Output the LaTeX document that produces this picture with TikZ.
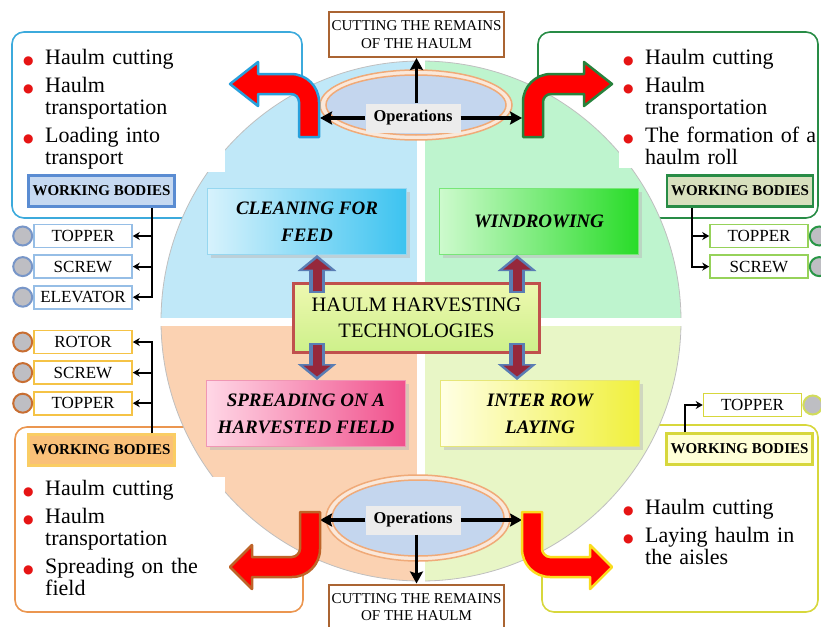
\documentclass[tikz,border=0pt]{standalone}
\usepackage{fontspec}
\setmainfont{Liberation Serif}
\newfontfamily\symfont{DejaVu Sans}
\usetikzlibrary{arrows.meta,positioning,shadows}

\definecolor{tlFrame}{RGB}{60,170,220}
\definecolor{trFrame}{RGB}{40,140,70}
\definecolor{blFrame}{RGB}{235,150,80}
\definecolor{brFrame}{RGB}{215,215,60}
\definecolor{qTL}{RGB}{192,232,248}
\definecolor{qTR}{RGB}{190,244,206}
\definecolor{qBL}{RGB}{251,210,178}
\definecolor{qBR}{RGB}{232,246,198}
\definecolor{opsFill}{RGB}{196,214,238}
\definecolor{ringLine}{RGB}{240,170,120}
\definecolor{ringIn}{RGB}{250,232,218}
\definecolor{opsLabel}{RGB}{236,236,236}
\definecolor{cutBrown}{RGB}{170,100,50}
\definecolor{hubRed}{RGB}{192,80,77}
\definecolor{hubA}{RGB}{238,248,176}
\definecolor{hubB}{RGB}{205,240,138}
\definecolor{arrBlue}{RGB}{90,125,180}
\definecolor{arrRed}{RGB}{150,40,60}
\definecolor{bulRed}{RGB}{230,20,20}
\definecolor{knobGray}{RGB}{190,190,195}
\definecolor{tlItem}{RGB}{150,190,230}
\definecolor{tlKnob}{RGB}{120,150,200}
\definecolor{trItem}{RGB}{150,210,90}
\definecolor{trKnob}{RGB}{40,150,70}
\definecolor{blItem}{RGB}{245,195,70}
\definecolor{blKnob}{RGB}{200,110,50}
\definecolor{brItem}{RGB}{215,215,60}
\definecolor{brKnob}{RGB}{210,220,90}
\definecolor{tlWBfill}{RGB}{198,217,241}
\definecolor{tlWBline}{RGB}{90,140,210}
\definecolor{trWBfill}{RGB}{216,224,190}
\definecolor{blWBfill}{RGB}{250,192,120}
\definecolor{blWBline}{RGB}{250,205,100}
\definecolor{brWBfill}{RGB}{255,255,215}
\definecolor{tlArr}{RGB}{40,160,220}
\definecolor{trArr}{RGB}{40,130,60}
\definecolor{blArr}{RGB}{190,100,40}
\definecolor{brArr}{RGB}{250,220,30}
\definecolor{cleanA}{RGB}{215,242,252}
\definecolor{cleanB}{RGB}{60,195,240}
\definecolor{cleanL}{RGB}{150,215,240}
\definecolor{windA}{RGB}{205,250,205}
\definecolor{windB}{RGB}{40,220,40}
\definecolor{windL}{RGB}{120,230,120}
\definecolor{spreadA}{RGB}{255,215,230}
\definecolor{spreadB}{RGB}{240,80,140}
\definecolor{spreadL}{RGB}{240,150,180}
\definecolor{interA}{RGB}{255,255,228}
\definecolor{interB}{RGB}{240,240,60}
\definecolor{interL}{RGB}{230,230,120}

\newcommand{\rbul}{\makebox[23pt][l]{\hspace*{1pt}\textcolor{bulRed}{\symfont\fontsize{12}{12}\selectfont ●}}}
\newcommand{\rind}{\hspace*{23pt}}

\tikzset{
    listframe/.style={line width=1.6pt, rounded corners=12pt, fill=white},
    lst/.style={fill=white, anchor=north west, align=left, inner sep=3pt, font=\fontsize{22}{22}\selectfont},
    wbox/.style={draw, line width=2.5pt, minimum width=146pt, minimum height=31pt, inner sep=1pt, font=\fontsize{15}{16}\selectfont\bfseries},
    bodybox/.style={draw, line width=1.6pt, fill=white, minimum width=98pt, minimum height=23pt, inner sep=1pt, font=\fontsize{17}{18}\selectfont},
    knob/.style={circle, draw, line width=2pt, fill=knobGray, minimum size=19pt, inner sep=0pt},
    bodyarrow/.style={line width=2pt, -{Stealth[length=7pt,width=8pt]}},
    opsarrow/.style={line width=3.2pt, -{Stealth[length=12pt,width=13pt,inset=2pt]}},
    ring/.style={draw=ringLine, line width=1.5pt},
    cutbox/.style={draw=cutBrown, line width=2pt, fill=white, align=center, minimum width=175pt, minimum height=45pt, inner sep=1pt, font=\fontsize{15}{17.5}\selectfont},
    opslabel/.style={fill=opsLabel, minimum width=95pt, minimum height=29pt, inner sep=1pt, font=\fontsize{16.5}{18}\selectfont\bfseries},
    techbox/.style={draw, line width=1pt, minimum width=199pt, minimum height=66pt, align=center, inner sep=1pt,
        font=\fontsize{19}{27}\selectfont\bfseries\itshape, drop shadow={shadow xshift=3pt, shadow yshift=-3pt, fill=gray!55}},
    hubbox/.style={draw=hubRed, line width=3pt, top color=hubA, bottom color=hubB, minimum width=246pt, minimum height=69pt,
        align=center, inner sep=1pt, font=\fontsize{20.5}{26}\selectfont},
    blkout/.style={draw=arrBlue, line width=16pt, -{Triangle[length=16pt,width=38pt]}},
    blkin/.style={draw=arrRed, line width=9pt, -{Triangle[length=11pt,width=27pt]}, shorten >=3.5pt, shorten <=2pt},
    bentarrow/.style={fill=red, line width=2.5pt, line join=round}
}

\begin{document}
\begin{tikzpicture}[x=1pt,y=-1pt]
\useasboundingbox (0,0) rectangle (821,626);

% frames of the four branches
\draw[listframe,draw=tlFrame] (12,32) rectangle (302,218);
\draw[listframe,draw=trFrame] (538,32) rectangle (818,218);
\draw[listframe,draw=blFrame] (15,427) rectangle (303,612);
\draw[listframe,draw=brFrame] (542,425) rectangle (818,612);

% the disc
\begin{scope}
\clip (421,321) circle[radius=260pt];
\fill[qTL] (161,61) rectangle (421,321);
\fill[qTR] (421,61) rectangle (681,321);
\fill[qBL] (161,321) rectangle (421,581);
\fill[qBR] (421,321) rectangle (681,581);
\end{scope}
\draw[gray!50,line width=0.8pt] (421,321) circle[radius=260pt];
\draw[white,line width=8pt] (421,58) -- (421,584);
\draw[white,line width=8pt] (158,322) -- (684,322);

% operations
\draw[ring,fill=ringIn] (416,105) ellipse[x radius=96pt,y radius=35pt];
\draw[ring,fill=opsFill] (416,105) ellipse[x radius=90pt,y radius=30pt];
\draw[ring,fill=ringIn] (418,518) ellipse[x radius=92pt,y radius=43pt];
\draw[ring,fill=opsFill] (418,518) ellipse[x radius=86pt,y radius=38pt];

\node[cutbox] (cutT) at (416.5,34.5) {CUTTING THE REMAINS\\OF THE HAULM};
\node[cutbox] (cutB) at (416.5,607) {CUTTING THE REMAINS\\OF THE HAULM};
\node[opslabel] (opsT) at (413,118) {Operations};
\node[opslabel] (opsB) at (413,520) {Operations};
\coordinate (opsTL) at (320,118);
\coordinate (opsTR) at (522,118);
\coordinate (opsBL) at (320,520);
\coordinate (opsBR) at (522,520);
\draw[opsarrow] (opsT.west) -- (opsTL);
\draw[opsarrow] (opsT.east) -- (opsTR);
\draw[opsarrow] (opsT.north -| cutT.south) -- (cutT.south);
\draw[opsarrow] (opsB.west) -- (opsBL);
\draw[opsarrow] (opsB.east) -- (opsBR);
\draw[opsarrow] (opsB.south -| cutB.north) -- (cutB.north);

% technologies
\node[techbox,draw=cleanL,left color=cleanA,right color=cleanB] (clean) at (307,221.5) {CLEANING FOR\\FEED};
\node[techbox,draw=windL,left color=windA,right color=windB] (wind) at (539,221.5) {WINDROWING};
\node[techbox,draw=spreadL,left color=spreadA,right color=spreadB] (spread) at (306,413.5) {SPREADING ON A\\HARVESTED FIELD};
\node[techbox,draw=interL,left color=interA,right color=interB] (inter) at (540,413.5) {INTER ROW\\LAYING};
\node[hubbox] (hub) at (416.5,318) {HAULM HARVESTING\\TECHNOLOGIES};

\coordinate (hubTL) at (317,293);
\coordinate (hubTR) at (517,293);
\coordinate (hubBL) at (317,343);
\coordinate (hubBR) at (517,343);
\foreach \a/\b in {hubTL/clean.south, hubTR/wind.south, hubBL/spread.north, hubBR/inter.north} {
    \draw[blkout] (\a) -- (\a |- \b);
    \draw[blkin] (\a) -- (\a |- \b);
}

% lists of operations
\node[lst,text width=200pt] (tlList) at (19,46) {\rbul Haulm cutting\\[6pt]\rbul Haulm\\\rind transportation\\[6pt]\rbul Loading into\\\rind transport};
\node[lst,text width=190pt] (trList) at (619,46) {\rbul Haulm cutting\\[6pt]\rbul Haulm\\\rind transportation\\[6pt]\mbox{\rbul The formation of a}\\\rind haulm roll};
\node[lst,text width=200pt] (blList) at (19,477) {\rbul Haulm cutting\\[6pt]\rbul Haulm\\\rind transportation\\[6pt]\rbul Spreading on the\\\rind field};
\node[lst,text width=190pt] (brList) at (619,496) {\rbul Haulm cutting\\[6pt]\rbul Laying haulm in\\\rind the aisles};

% working bodies
\node[wbox,draw=tlWBline,fill=tlWBfill] (tlWB) at (101.5,191) {WORKING BODIES};
\node[wbox,draw=trFrame,fill=trWBfill] (trWB) at (740,191) {WORKING BODIES};
\node[wbox,draw=blWBline,fill=blWBfill] (blWB) at (101.5,450) {WORKING BODIES};
\node[wbox,draw=brItem,fill=brWBfill] (brWB) at (739.5,449) {WORKING BODIES};

\node[bodybox,draw=tlItem] (tlTop) at (83,236) {TOPPER};
\node[bodybox,draw=tlItem,below=6pt of tlTop] (tlScr) {SCREW};
\node[bodybox,draw=tlItem,below=6pt of tlScr] (tlElv) {ELEVATOR};
\node[knob,draw=tlKnob,left=0pt of tlTop] (tlTopK) {};
\node[knob,draw=tlKnob,left=0pt of tlScr] (tlScrK) {};
\node[knob,draw=tlKnob,left=0pt of tlElv] (tlElvK) {};

\node[bodybox,draw=trItem] (trTop) at (759,236) {TOPPER};
\node[bodybox,draw=trItem,below=6pt of trTop] (trScr) {SCREW};
\node[knob,draw=trKnob,right=0pt of trTop] (trTopK) {};
\node[knob,draw=trKnob,right=0pt of trScr] (trScrK) {};

\node[bodybox,draw=blItem] (blRot) at (83,342) {ROTOR};
\node[bodybox,draw=blItem,below=6pt of blRot] (blScr) {SCREW};
\node[bodybox,draw=blItem,below=6pt of blScr] (blTop) {TOPPER};
\node[knob,draw=blKnob,left=0pt of blRot] (blRotK) {};
\node[knob,draw=blKnob,left=0pt of blScr] (blScrK) {};
\node[knob,draw=blKnob,left=0pt of blTop] (blTopK) {};

\node[bodybox,draw=brItem] (brTop) at (752.5,405) {TOPPER};
\node[knob,draw=brKnob,right=0pt of brTop] (brTopK) {};

\coordinate (tlJ) at ([xshift=50pt]tlWB.south);
\draw[bodyarrow] (tlJ) |- (tlElv.east);
\draw[bodyarrow] (tlJ |- tlTop.east) -- (tlTop.east);
\draw[bodyarrow] (tlJ |- tlScr.east) -- (tlScr.east);
\coordinate (trJ) at ([xshift=-48pt]trWB.south);
\draw[bodyarrow] (trJ) |- (trScr.west);
\draw[bodyarrow] (trJ |- trTop.west) -- (trTop.west);
\coordinate (blJ) at ([xshift=50pt]blWB.north);
\draw[bodyarrow] (blJ) |- (blRot.east);
\draw[bodyarrow] (blJ |- blScr.east) -- (blScr.east);
\draw[bodyarrow] (blJ |- blTop.east) -- (blTop.east);
\coordinate (brJ) at ([xshift=-55pt]brWB.north);
\draw[bodyarrow] (brJ) |- (brTop.west);

% bent arrows
\draw[bentarrow,draw=tlArr] (299,137) -- (319,137) -- (319,102) .. controls (319,86.5) and (306.5,74) .. (291,74) -- (258,74) -- (258,62) -- (230,84) -- (258,106) -- (258,94) -- (291,94) .. controls (295.4,94) and (299,97.6) .. (299,102) -- cycle;
\draw[bentarrow,draw=trArr] (543,137) -- (523,137) -- (523,102) .. controls (523,86.5) and (535.5,74) .. (551,74) -- (584,74) -- (584,62) -- (612,84) -- (584,106) -- (584,94) -- (551,94) .. controls (546.6,94) and (543,97.6) .. (543,102) -- cycle;
\draw[bentarrow,draw=blArr] (300,512) -- (320,512) -- (320,549) .. controls (320,564.5) and (307.5,577) .. (292,577) -- (252,577) -- (252,589) -- (230,567) -- (252,545) -- (252,557) -- (292,557) .. controls (296.4,557) and (300,552.6) .. (300,549) -- cycle;
\draw[bentarrow,draw=brArr] (542,512) -- (522,512) -- (522,549) .. controls (522,564.5) and (534.5,577) .. (550,577) -- (590,577) -- (590,589) -- (612,567) -- (590,545) -- (590,557) -- (550,557) .. controls (545.6,557) and (542,552.6) .. (542,549) -- cycle;
\end{tikzpicture}
\end{document}
